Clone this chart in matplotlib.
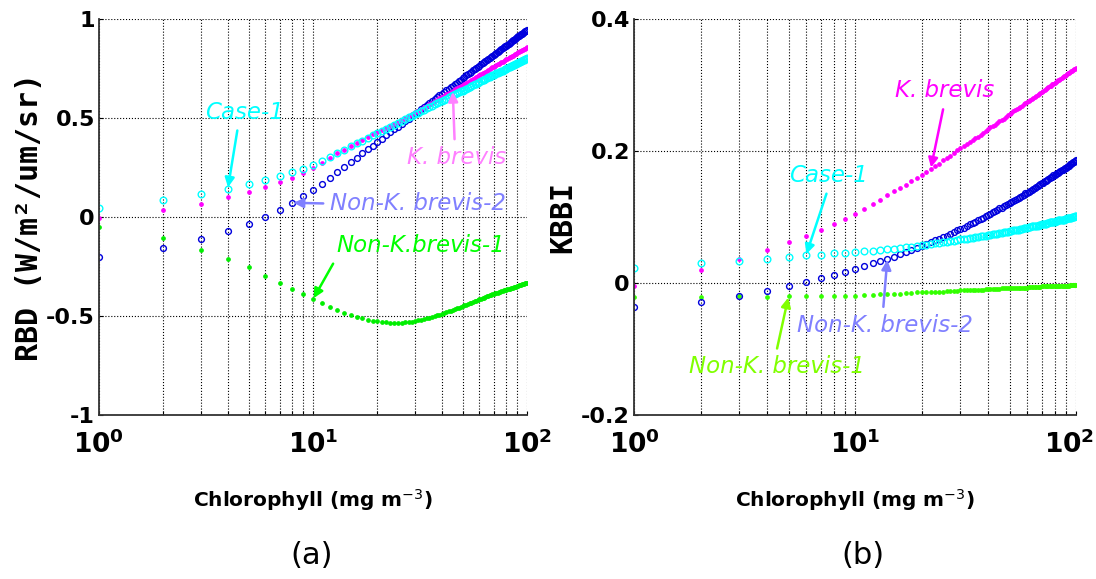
import matplotlib
matplotlib.use("Agg")
import matplotlib.pyplot as plt
from matplotlib.ticker import FixedLocator, NullFormatter
from matplotlib.transforms import ScaledTranslation

# chlorophyll (mg m^-3), one value per integer step
chl = list(range(1, 101))

# panel (a): RBD
case1_rbd = [0.048, 0.088, 0.117, 0.143, 0.166, 0.188, 0.208, 0.227, 0.245, 0.262,
             0.284, 0.305, 0.324, 0.341, 0.357, 0.372, 0.386, 0.400, 0.413, 0.425,
             0.436, 0.447, 0.457, 0.467, 0.477, 0.486, 0.495, 0.503, 0.511, 0.520,
             0.527, 0.535, 0.542, 0.549, 0.556, 0.562, 0.569, 0.575, 0.581, 0.587,
             0.593, 0.598, 0.604, 0.609, 0.615, 0.620, 0.625, 0.630, 0.635, 0.639,
             0.644, 0.649, 0.653, 0.657, 0.662, 0.666, 0.670, 0.674, 0.678, 0.682,
             0.686, 0.690, 0.693, 0.697, 0.701, 0.705, 0.708, 0.712, 0.715, 0.718,
             0.722, 0.725, 0.728, 0.731, 0.735, 0.738, 0.740, 0.744, 0.747, 0.750,
             0.752, 0.756, 0.758, 0.761, 0.764, 0.766, 0.770, 0.772, 0.774, 0.777,
             0.780, 0.783, 0.785, 0.787, 0.790, 0.792, 0.795, 0.797, 0.800, 0.802]
kb_rbd = [-0.004, 0.034, 0.068, 0.100, 0.125, 0.152, 0.175, 0.197, 0.222, 0.248,
          0.274, 0.299, 0.321, 0.341, 0.360, 0.376, 0.390, 0.404, 0.417, 0.429,
          0.440, 0.451, 0.461, 0.471, 0.481, 0.490, 0.499, 0.508, 0.518, 0.528,
          0.536, 0.546, 0.554, 0.562, 0.570, 0.577, 0.585, 0.592, 0.599, 0.606,
          0.613, 0.619, 0.626, 0.632, 0.639, 0.645, 0.651, 0.657, 0.662, 0.667,
          0.673, 0.679, 0.683, 0.688, 0.694, 0.699, 0.703, 0.708, 0.713, 0.717,
          0.722, 0.726, 0.730, 0.735, 0.739, 0.744, 0.748, 0.752, 0.756, 0.759,
          0.764, 0.767, 0.771, 0.774, 0.779, 0.783, 0.785, 0.789, 0.793, 0.796,
          0.799, 0.803, 0.806, 0.809, 0.813, 0.815, 0.820, 0.822, 0.825, 0.828,
          0.832, 0.835, 0.837, 0.840, 0.843, 0.846, 0.849, 0.851, 0.855, 0.857]
nkb2_rbd = [-0.201, -0.155, -0.111, -0.072, -0.035, 0.002, 0.038, 0.072, 0.104, 0.135,
            0.168, 0.199, 0.227, 0.253, 0.278, 0.300, 0.321, 0.342, 0.361, 0.379,
            0.396, 0.412, 0.428, 0.443, 0.457, 0.471, 0.484, 0.497, 0.509, 0.521,
            0.533, 0.544, 0.555, 0.565, 0.576, 0.585, 0.595, 0.605, 0.614, 0.623,
            0.632, 0.640, 0.648, 0.656, 0.664, 0.672, 0.679, 0.687, 0.694, 0.701,
            0.708, 0.715, 0.721, 0.728, 0.734, 0.741, 0.747, 0.753, 0.760, 0.765,
            0.771, 0.777, 0.782, 0.788, 0.794, 0.799, 0.804, 0.810, 0.815, 0.819,
            0.824, 0.829, 0.834, 0.839, 0.844, 0.849, 0.853, 0.858, 0.862, 0.866,
            0.870, 0.875, 0.879, 0.883, 0.887, 0.892, 0.896, 0.900, 0.904, 0.908,
            0.912, 0.916, 0.919, 0.923, 0.927, 0.930, 0.934, 0.938, 0.942, 0.945]
nkb1_rbd = [-0.051, -0.105, -0.164, -0.211, -0.253, -0.298, -0.332, -0.362, -0.390, -0.416,
            -0.436, -0.455, -0.470, -0.483, -0.494, -0.503, -0.511, -0.518, -0.523, -0.527,
            -0.530, -0.532, -0.533, -0.534, -0.534, -0.533, -0.532, -0.530, -0.528, -0.525,
            -0.522, -0.519, -0.515, -0.512, -0.508, -0.504, -0.500, -0.496, -0.493, -0.489,
            -0.485, -0.481, -0.477, -0.473, -0.469, -0.465, -0.461, -0.457, -0.453, -0.449,
            -0.445, -0.442, -0.438, -0.435, -0.432, -0.428, -0.425, -0.422, -0.419, -0.416,
            -0.413, -0.410, -0.407, -0.404, -0.401, -0.398, -0.396, -0.393, -0.390, -0.388,
            -0.386, -0.384, -0.382, -0.379, -0.377, -0.375, -0.373, -0.371, -0.369, -0.367,
            -0.365, -0.363, -0.361, -0.360, -0.358, -0.356, -0.354, -0.352, -0.351, -0.349,
            -0.347, -0.345, -0.344, -0.342, -0.340, -0.339, -0.337, -0.335, -0.334, -0.332]

# panel (b): KBBI
case1_kbbi = [0.023, 0.030, 0.033, 0.037, 0.039, 0.042, 0.043, 0.045, 0.046, 0.047,
              0.048, 0.049, 0.050, 0.051, 0.052, 0.053, 0.054, 0.055, 0.056, 0.057,
              0.058, 0.059, 0.060, 0.061, 0.062, 0.062, 0.063, 0.064, 0.065, 0.066,
              0.066, 0.067, 0.068, 0.068, 0.069, 0.070, 0.071, 0.071, 0.072, 0.073,
              0.073, 0.074, 0.074, 0.075, 0.076, 0.076, 0.077, 0.077, 0.078, 0.079,
              0.079, 0.080, 0.080, 0.081, 0.081, 0.082, 0.082, 0.083, 0.083, 0.084,
              0.085, 0.085, 0.086, 0.086, 0.086, 0.087, 0.087, 0.088, 0.088, 0.089,
              0.089, 0.090, 0.090, 0.091, 0.091, 0.092, 0.092, 0.092, 0.093, 0.093,
              0.094, 0.094, 0.095, 0.095, 0.095, 0.096, 0.096, 0.096, 0.097, 0.097,
              0.098, 0.098, 0.098, 0.099, 0.099, 0.100, 0.100, 0.100, 0.101, 0.101]
kb_kbbi = [-0.005, 0.020, 0.036, 0.050, 0.062, 0.072, 0.081, 0.089, 0.097, 0.104,
           0.112, 0.120, 0.126, 0.133, 0.139, 0.144, 0.149, 0.154, 0.159, 0.163,
           0.168, 0.173, 0.177, 0.181, 0.186, 0.190, 0.193, 0.197, 0.201, 0.204,
           0.207, 0.211, 0.214, 0.217, 0.220, 0.222, 0.225, 0.228, 0.231, 0.233,
           0.236, 0.238, 0.240, 0.243, 0.245, 0.247, 0.249, 0.252, 0.254, 0.256,
           0.258, 0.260, 0.262, 0.263, 0.265, 0.267, 0.269, 0.271, 0.273, 0.274,
           0.276, 0.277, 0.279, 0.281, 0.282, 0.284, 0.285, 0.287, 0.288, 0.290,
           0.291, 0.293, 0.294, 0.295, 0.297, 0.298, 0.299, 0.301, 0.302, 0.303,
           0.304, 0.306, 0.307, 0.308, 0.309, 0.311, 0.312, 0.313, 0.314, 0.315,
           0.316, 0.318, 0.318, 0.320, 0.321, 0.322, 0.323, 0.324, 0.325, 0.326]
nkb2_kbbi = [-0.037, -0.029, -0.020, -0.012, -0.005, 0.002, 0.007, 0.012, 0.017, 0.022,
             0.026, 0.030, 0.033, 0.037, 0.040, 0.044, 0.047, 0.050, 0.053, 0.056,
             0.059, 0.062, 0.065, 0.067, 0.070, 0.072, 0.075, 0.077, 0.080, 0.082,
             0.084, 0.087, 0.089, 0.091, 0.093, 0.095, 0.097, 0.099, 0.101, 0.103,
             0.105, 0.107, 0.109, 0.111, 0.113, 0.114, 0.116, 0.118, 0.120, 0.121,
             0.123, 0.125, 0.126, 0.128, 0.129, 0.131, 0.132, 0.134, 0.136, 0.137,
             0.138, 0.140, 0.141, 0.143, 0.144, 0.146, 0.147, 0.148, 0.150, 0.151,
             0.152, 0.154, 0.155, 0.156, 0.158, 0.159, 0.160, 0.161, 0.163, 0.164,
             0.165, 0.166, 0.167, 0.168, 0.170, 0.171, 0.172, 0.173, 0.174, 0.175,
             0.176, 0.178, 0.178, 0.180, 0.181, 0.182, 0.183, 0.184, 0.185, 0.186]
nkb1_kbbi = [-0.021, -0.021, -0.020, -0.021, -0.020, -0.020, -0.020, -0.019, -0.019, -0.019,
             -0.018, -0.018, -0.017, -0.017, -0.016, -0.016, -0.015, -0.015, -0.014, -0.014,
             -0.014, -0.013, -0.013, -0.013, -0.013, -0.012, -0.012, -0.012, -0.012, -0.011,
             -0.011, -0.011, -0.011, -0.010, -0.010, -0.010, -0.010, -0.010, -0.009, -0.009,
             -0.009, -0.009, -0.009, -0.009, -0.009, -0.008, -0.008, -0.008, -0.008, -0.008,
             -0.008, -0.008, -0.007, -0.007, -0.007, -0.007, -0.007, -0.007, -0.007, -0.007,
             -0.006, -0.006, -0.006, -0.006, -0.006, -0.006, -0.006, -0.006, -0.006, -0.005,
             -0.005, -0.005, -0.005, -0.005, -0.005, -0.005, -0.005, -0.005, -0.005, -0.005,
             -0.005, -0.004, -0.004, -0.004, -0.004, -0.004, -0.004, -0.004, -0.004, -0.004,
             -0.004, -0.004, -0.004, -0.003, -0.003, -0.003, -0.003, -0.003, -0.003, -0.003]

xticks = [1, 10, 100]
xtick_labels = [r'$\mathbf{10^{0}}$', r'$\mathbf{10^{1}}$', r'$\mathbf{10^{2}}$']
minor_x = [m * d for d in (1, 10) for m in range(2, 10)]
rbd_ticks = [-1, -0.5, 0, 0.5, 1]
rbd_labels = ['-1', '-0.5', '0', '0.5', '1']
kbbi_ticks = [-0.2, 0, 0.2, 0.4]
kbbi_labels = ['-0.2', '0', '0.2', '0.4']

CYAN, BLUE, MAG, GREEN = '#00ffff', '#0000dd', '#ff00ff', '#00ee00'
ANN = dict(fontsize=16.5, style='italic', ha='center', va='center')


def scatter_series(ax, case1, kb, nkb2, nkb1, green):
    ax.plot(chl, nkb1, 'o', ms=2.4, color=green, mec=green, ls='none')
    ax.plot(chl, nkb2, 'o', ms=4.2, mfc='none', mec=BLUE, mew=1.0, ls='none')
    ax.plot(chl, kb, 'o', ms=2.4, color=MAG, mec=MAG, ls='none')
    ax.plot(chl, case1, 'o', ms=4.8, mfc='none', mec=CYAN, mew=1.0, ls='none')


def style_axis(ax, yticks, ylabels, ylim, ylabel):
    ax.set_xscale('log')
    ax.set_xlim(1, 100)
    ax.set_ylim(*ylim)
    ax.set_xticks(xticks)
    ax.set_xticklabels(xtick_labels, fontsize=19)
    ax.xaxis.set_minor_locator(FixedLocator(minor_x))
    ax.xaxis.set_minor_formatter(NullFormatter())
    ax.set_yticks(yticks)
    ax.set_yticklabels(ylabels, fontsize=16, fontweight='bold')
    ax.tick_params(axis='both', which='both', direction='in', length=3, width=0.8)
    ax.tick_params(axis='x', which='major', pad=11)
    ax.tick_params(axis='y', pad=3)
    ax.grid(True, which='major', ls=':', color='black', lw=0.8)
    ax.grid(True, which='minor', axis='x', ls=':', color='black', lw=0.8)
    for s in ('top', 'right'):
        ax.spines[s].set_visible(False)
    for s in ('left', 'bottom'):
        ax.spines[s].set_linewidth(1.3)
        ax.spines[s].set_color('#333333')
    ax.set_xlabel(r'Chlorophyll (mg m$^{-3}$)', fontsize=14.5, fontweight='bold',
                  va='center')
    ax.xaxis.set_label_coords(0.5, -0.215)
    ax.set_ylabel(ylabel, fontsize=21.5, fontweight='bold', family='DejaVu Sans Mono',
                  va='center')
    ax.yaxis.set_label_coords(-0.162, 0.5)


def note(ax, text, xy, xytext, color, relpos=(0.5, 0.5)):
    ax.annotate(text, xy=xy, xytext=xytext, color=color, **ANN,
                arrowprops=dict(arrowstyle='-|>', color=color, lw=1.8, relpos=relpos,
                                mutation_scale=14, shrinkA=3, shrinkB=1))


fig = plt.figure(figsize=(10.96, 5.79), dpi=100)
ax_a = fig.add_axes([0.0903, 0.2832, 0.3905, 0.6839])
ax_b = fig.add_axes([0.5785, 0.2832, 0.4033, 0.6839])

scatter_series(ax_a, case1_rbd, kb_rbd, nkb2_rbd, nkb1_rbd, GREEN)
style_axis(ax_a, rbd_ticks, rbd_labels, (-1, 1), 'RBD (W/m²/um/sr)')
note(ax_a, 'Case-1', (chl[3], case1_rbd[3]), (4.8, 0.53), CYAN, (0.42, 0.0))
note(ax_a, 'K. brevis', (chl[44], kb_rbd[44]), (47, 0.30), '#ff80ff', (0.48, 1.0))
note(ax_a, 'Non-K. brevis-2', (chl[7], nkb2_rbd[7]), (31, 0.068), '#8080ff', (0.0, 0.5))
note(ax_a, 'Non-K.brevis-1', (chl[9], nkb1_rbd[9]), (32, -0.145), '#00ff00', (0.0, 0.0))

scatter_series(ax_b, case1_kbbi, kb_kbbi, nkb2_kbbi, nkb1_kbbi, '#33ff00')
style_axis(ax_b, kbbi_ticks, kbbi_labels, (-0.2, 0.4), 'KBBI')
note(ax_b, 'K. brevis', (chl[21], kb_kbbi[21]), (25.4, 0.291), MAG, (0.5, 0.0))
note(ax_b, 'Case-1', (chl[5], case1_kbbi[5]), (7.6, 0.163), CYAN, (0.5, 0.0))
note(ax_b, 'Non-K. brevis-2', (chl[13], nkb2_kbbi[13]), (13.6, -0.064), '#8080ff', (0.49, 1.0))
note(ax_b, 'Non-K. brevis-1', (chl[4], nkb1_kbbi[4]), (4.45, -0.127), '#80ff00', (0.49, 1.0))

# keep the last decade label of panel (b) inside the canvas
last = ax_b.get_xticklabels()[-1]
last.set_transform(last.get_transform() + ScaledTranslation(-5 / 72, 0, fig.dpi_scale_trans))

fig.text(0.284, 0.041, '(a)', fontsize=22, ha='center', va='center')
fig.text(0.787, 0.041, '(b)', fontsize=22, ha='center', va='center')

fig.savefig('out.png', dpi=100)
